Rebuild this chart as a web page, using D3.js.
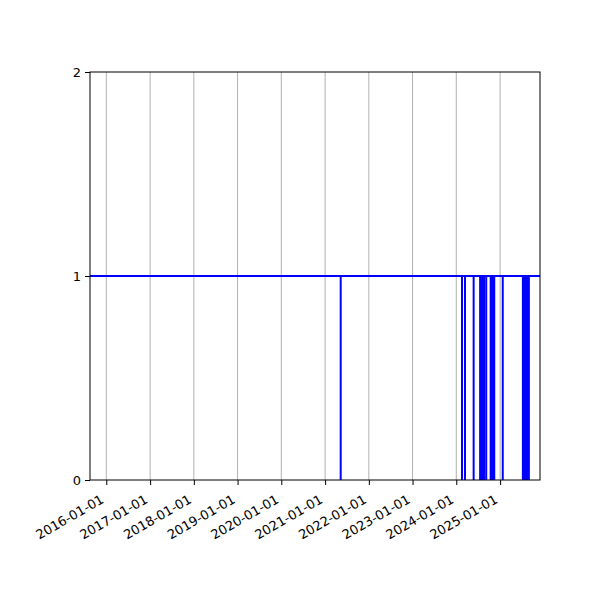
<!DOCTYPE html>
<html>
<head>
<meta charset="utf-8">
<script src="https://cdn.jsdelivr.net/npm/d3@7"></script>
<style>
  body { margin: 0; background: #fff; }
  text { font-family: "DejaVu Sans", sans-serif; }
</style>
</head>
<body>
<div id="chart"></div>
<script>
// values
const yTicks = [0, 1, 2];
const tickDates = ["2016-01-01", "2017-01-01", "2018-01-01", "2019-01-01", "2020-01-01",
                   "2021-01-01", "2022-01-01", "2023-01-01", "2024-01-01", "2025-01-01"];
const xLimits = ["2015-08-18", "2025-11-30"];
const levelValue = 1;
const eventDates = ["2021-05-11",
                    "2024-02-18", "2024-03-14", "2024-05-25",
                    "2024-07-18", "2024-07-26", "2024-08-04", "2024-08-12", "2024-08-21",
                    "2024-09-07",
                    "2024-10-14", "2024-10-22", "2024-10-31", "2024-11-06", "2024-11-13",
                    "2025-01-23",
                    "2025-07-10", "2025-07-16", "2025-07-23", "2025-07-29", "2025-08-04",
                    "2025-08-10", "2025-08-17", "2025-08-23", "2025-08-29"];

const parse = d3.utcParse("%Y-%m-%d");
const fmt = d3.utcFormat("%Y-%m-%d");

const width = 600, height = 600;
const plotLeft = 90, plotRight = 540, plotTop = 72, plotBottom = 480;

const svg = d3.select("#chart")
  .append("svg")
  .attr("width", width)
  .attr("height", height);

const x = d3.scaleUtc()
  .domain(xLimits.map(parse))
  .range([plotLeft, plotRight]);

const y = d3.scaleLinear()
  .domain([0, 2])
  .range([plotBottom, plotTop]);

// vertical grid
svg.append("g")
  .selectAll("line")
  .data(tickDates.map(parse))
  .enter()
  .append("line")
  .attr("x1", d => x(d)).attr("x2", d => x(d))
  .attr("y1", plotTop).attr("y2", plotBottom)
  .attr("stroke", "#b0b0b0")
  .attr("stroke-width", 1);

// level line
svg.append("line")
  .attr("x1", x.range()[0]).attr("x2", x.range()[1])
  .attr("y1", y(levelValue)).attr("y2", y(levelValue))
  .attr("stroke", "#0000ff")
  .attr("stroke-width", 2);

// event drops
svg.append("g")
  .selectAll("line")
  .data(eventDates.map(parse))
  .enter()
  .append("line")
  .attr("x1", d => x(d)).attr("x2", d => x(d))
  .attr("y1", y(0)).attr("y2", y(levelValue))
  .attr("stroke", "#0000ff")
  .attr("stroke-width", 2);

// frame
svg.append("rect")
  .attr("x", plotLeft).attr("y", plotTop)
  .attr("width", plotRight - plotLeft).attr("height", plotBottom - plotTop)
  .attr("fill", "none")
  .attr("stroke", "#000")
  .attr("stroke-width", 1);

// axes
const xAxis = svg.append("g")
  .attr("transform", `translate(0, ${plotBottom})`)
  .call(d3.axisBottom(x)
    .tickValues(tickDates.map(parse))
    .tickFormat(fmt)
    .tickSize(5)
    .tickPadding(5)
    .tickSizeOuter(0));

xAxis.select(".domain").remove();
xAxis.selectAll("text")
  .attr("font-size", 13)
  .attr("font-family", "DejaVu Sans")
  .attr("fill", "#000")
  .attr("text-anchor", "end")
  .attr("dy", null)
  .attr("y", 0)
  .attr("transform", "translate(-2, 22) rotate(-30)");

const yAxis = svg.append("g")
  .attr("transform", `translate(${plotLeft}, 0)`)
  .call(d3.axisLeft(y)
    .tickValues(yTicks)
    .tickFormat(d3.format("d"))
    .tickSize(5)
    .tickPadding(4)
    .tickSizeOuter(0));

yAxis.select(".domain").remove();
yAxis.selectAll("text")
  .attr("font-size", 13)
  .attr("font-family", "DejaVu Sans")
  .attr("fill", "#000");
</script>
</body>
</html>
